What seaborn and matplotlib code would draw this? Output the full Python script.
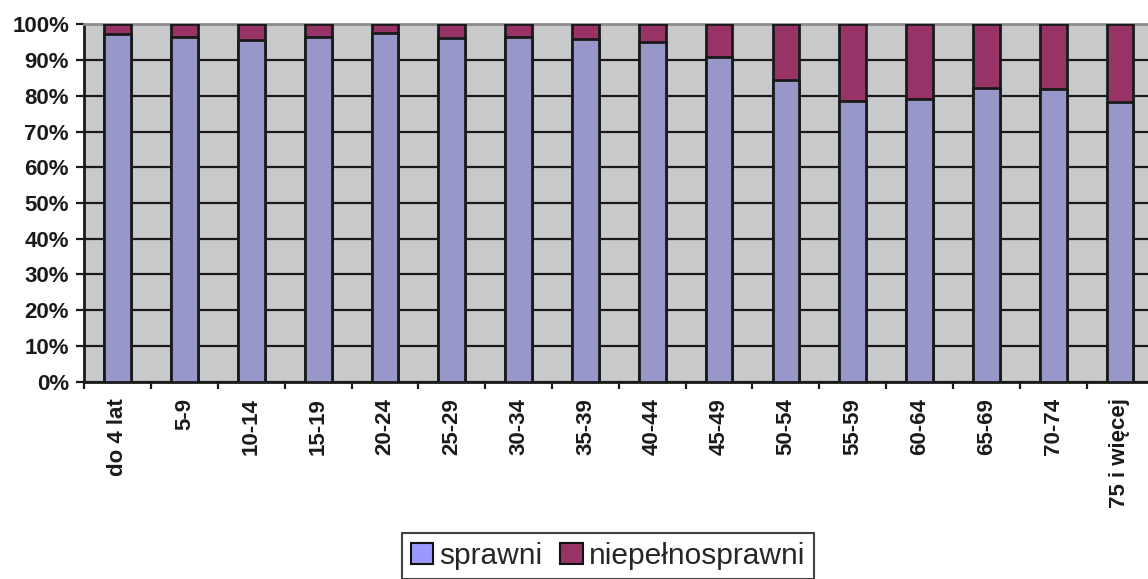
import pandas as pd
import matplotlib
matplotlib.use("Agg")
import matplotlib.pyplot as plt
from matplotlib.patches import Patch
from matplotlib.ticker import FixedLocator, PercentFormatter
import seaborn as sns

# age groups and shares (percent)
age_groups = ["do 4 lat", "5-9", "10-14", "15-19", "20-24", "25-29", "30-34",
              "35-39", "40-44", "45-49", "50-54", "55-59", "60-64", "65-69",
              "70-74", "75 i więcej"]
sprawni = [97.4, 96.5, 95.5, 96.5, 97.6, 96.3, 96.5, 95.8, 95.1, 90.8,
           84.3, 78.5, 79.0, 82.1, 82.0, 78.3]
niepelnosprawni = [2.6, 3.5, 4.5, 3.5, 2.4, 3.7, 3.5, 4.2, 4.9, 9.2,
                   15.7, 21.5, 21.0, 17.9, 18.0, 21.7]

df = pd.DataFrame({"grupa": age_groups, "sprawni": sprawni,
                   "niepelnosprawni": niepelnosprawni})
df["razem"] = df["sprawni"] + df["niepelnosprawni"]

sns.set_theme(style="white")
plt.rcParams["font.family"] = ["Liberation Sans", "DejaVu Sans"]

col_ok = "#9797CA"
col_dis = "#973366"
bg = "#C8C9CB"
ink = "#1a1a1a"

fig = plt.figure(figsize=(11.48, 5.79), dpi=100)
ax = fig.add_axes([84.3 / 1148, 197.3 / 579, 1069.1 / 1148, 357.4 / 579])
ax.set_facecolor(bg)

# stacked bars: full height in maroon, then the "sprawni" part over it
sns.barplot(data=df, x="grupa", y="razem", color=col_dis, width=0.4,
            edgecolor=ink, linewidth=2, saturation=1, ax=ax, zorder=3)
sns.barplot(data=df, x="grupa", y="sprawni", color=col_ok, width=0.4,
            edgecolor=ink, linewidth=2, saturation=1, ax=ax, zorder=4)

ax.set_xlim(-0.5, len(age_groups) - 0.5)
ax.set_ylim(0, 100)
ax.set_xlabel("")
ax.set_ylabel("")

ax.yaxis.set_major_locator(FixedLocator(range(0, 101, 10)))
ax.yaxis.set_major_formatter(PercentFormatter(decimals=0))
ax.yaxis.grid(True, color=ink, linewidth=1.6, zorder=1)
ax.set_axisbelow(True)

ax.set_xticks(range(len(age_groups)))
ax.set_xticklabels(age_groups, rotation=90, fontsize=16, fontweight="bold",
                   color=ink)
ax.set_xticks([i - 0.5 for i in range(len(age_groups) + 1)], minor=True)
ax.tick_params(axis="x", which="major", length=0, pad=12)
ax.tick_params(axis="x", which="minor", length=5, width=1.6,
               color=ink, direction="out", bottom=True)
ax.tick_params(axis="y", length=6, width=1.6, color=ink,
               direction="out", left=True, pad=5)
for lab in ax.get_yticklabels():
    lab.set_fontsize(16)
    lab.set_fontweight("bold")
    lab.set_color(ink)

for side in ["left", "bottom"]:
    ax.spines[side].set_color(ink)
    ax.spines[side].set_linewidth(2)
ax.spines["top"].set_color("#8c8c8c")
ax.spines["top"].set_linewidth(2)
ax.spines["right"].set_visible(False)

handles = [Patch(facecolor="#9999FF", edgecolor="#111111", linewidth=1.5),
           Patch(facecolor=col_dis, edgecolor="#111111", linewidth=1.5)]
leg = fig.legend(handles, ["sprawni", "niepełnosprawni"], ncol=2,
                 loc="upper center", bbox_to_anchor=(608 / 1148, 46 / 579),
                 fontsize=21.5, frameon=True, fancybox=False,
                 handlelength=0.75, handleheight=0.75, handletextpad=0.2,
                 columnspacing=0.6, borderpad=0.3, borderaxespad=0)
leg.get_frame().set_edgecolor("#111111")
leg.get_frame().set_linewidth(1.5)

fig.savefig("out.png", dpi=100)
